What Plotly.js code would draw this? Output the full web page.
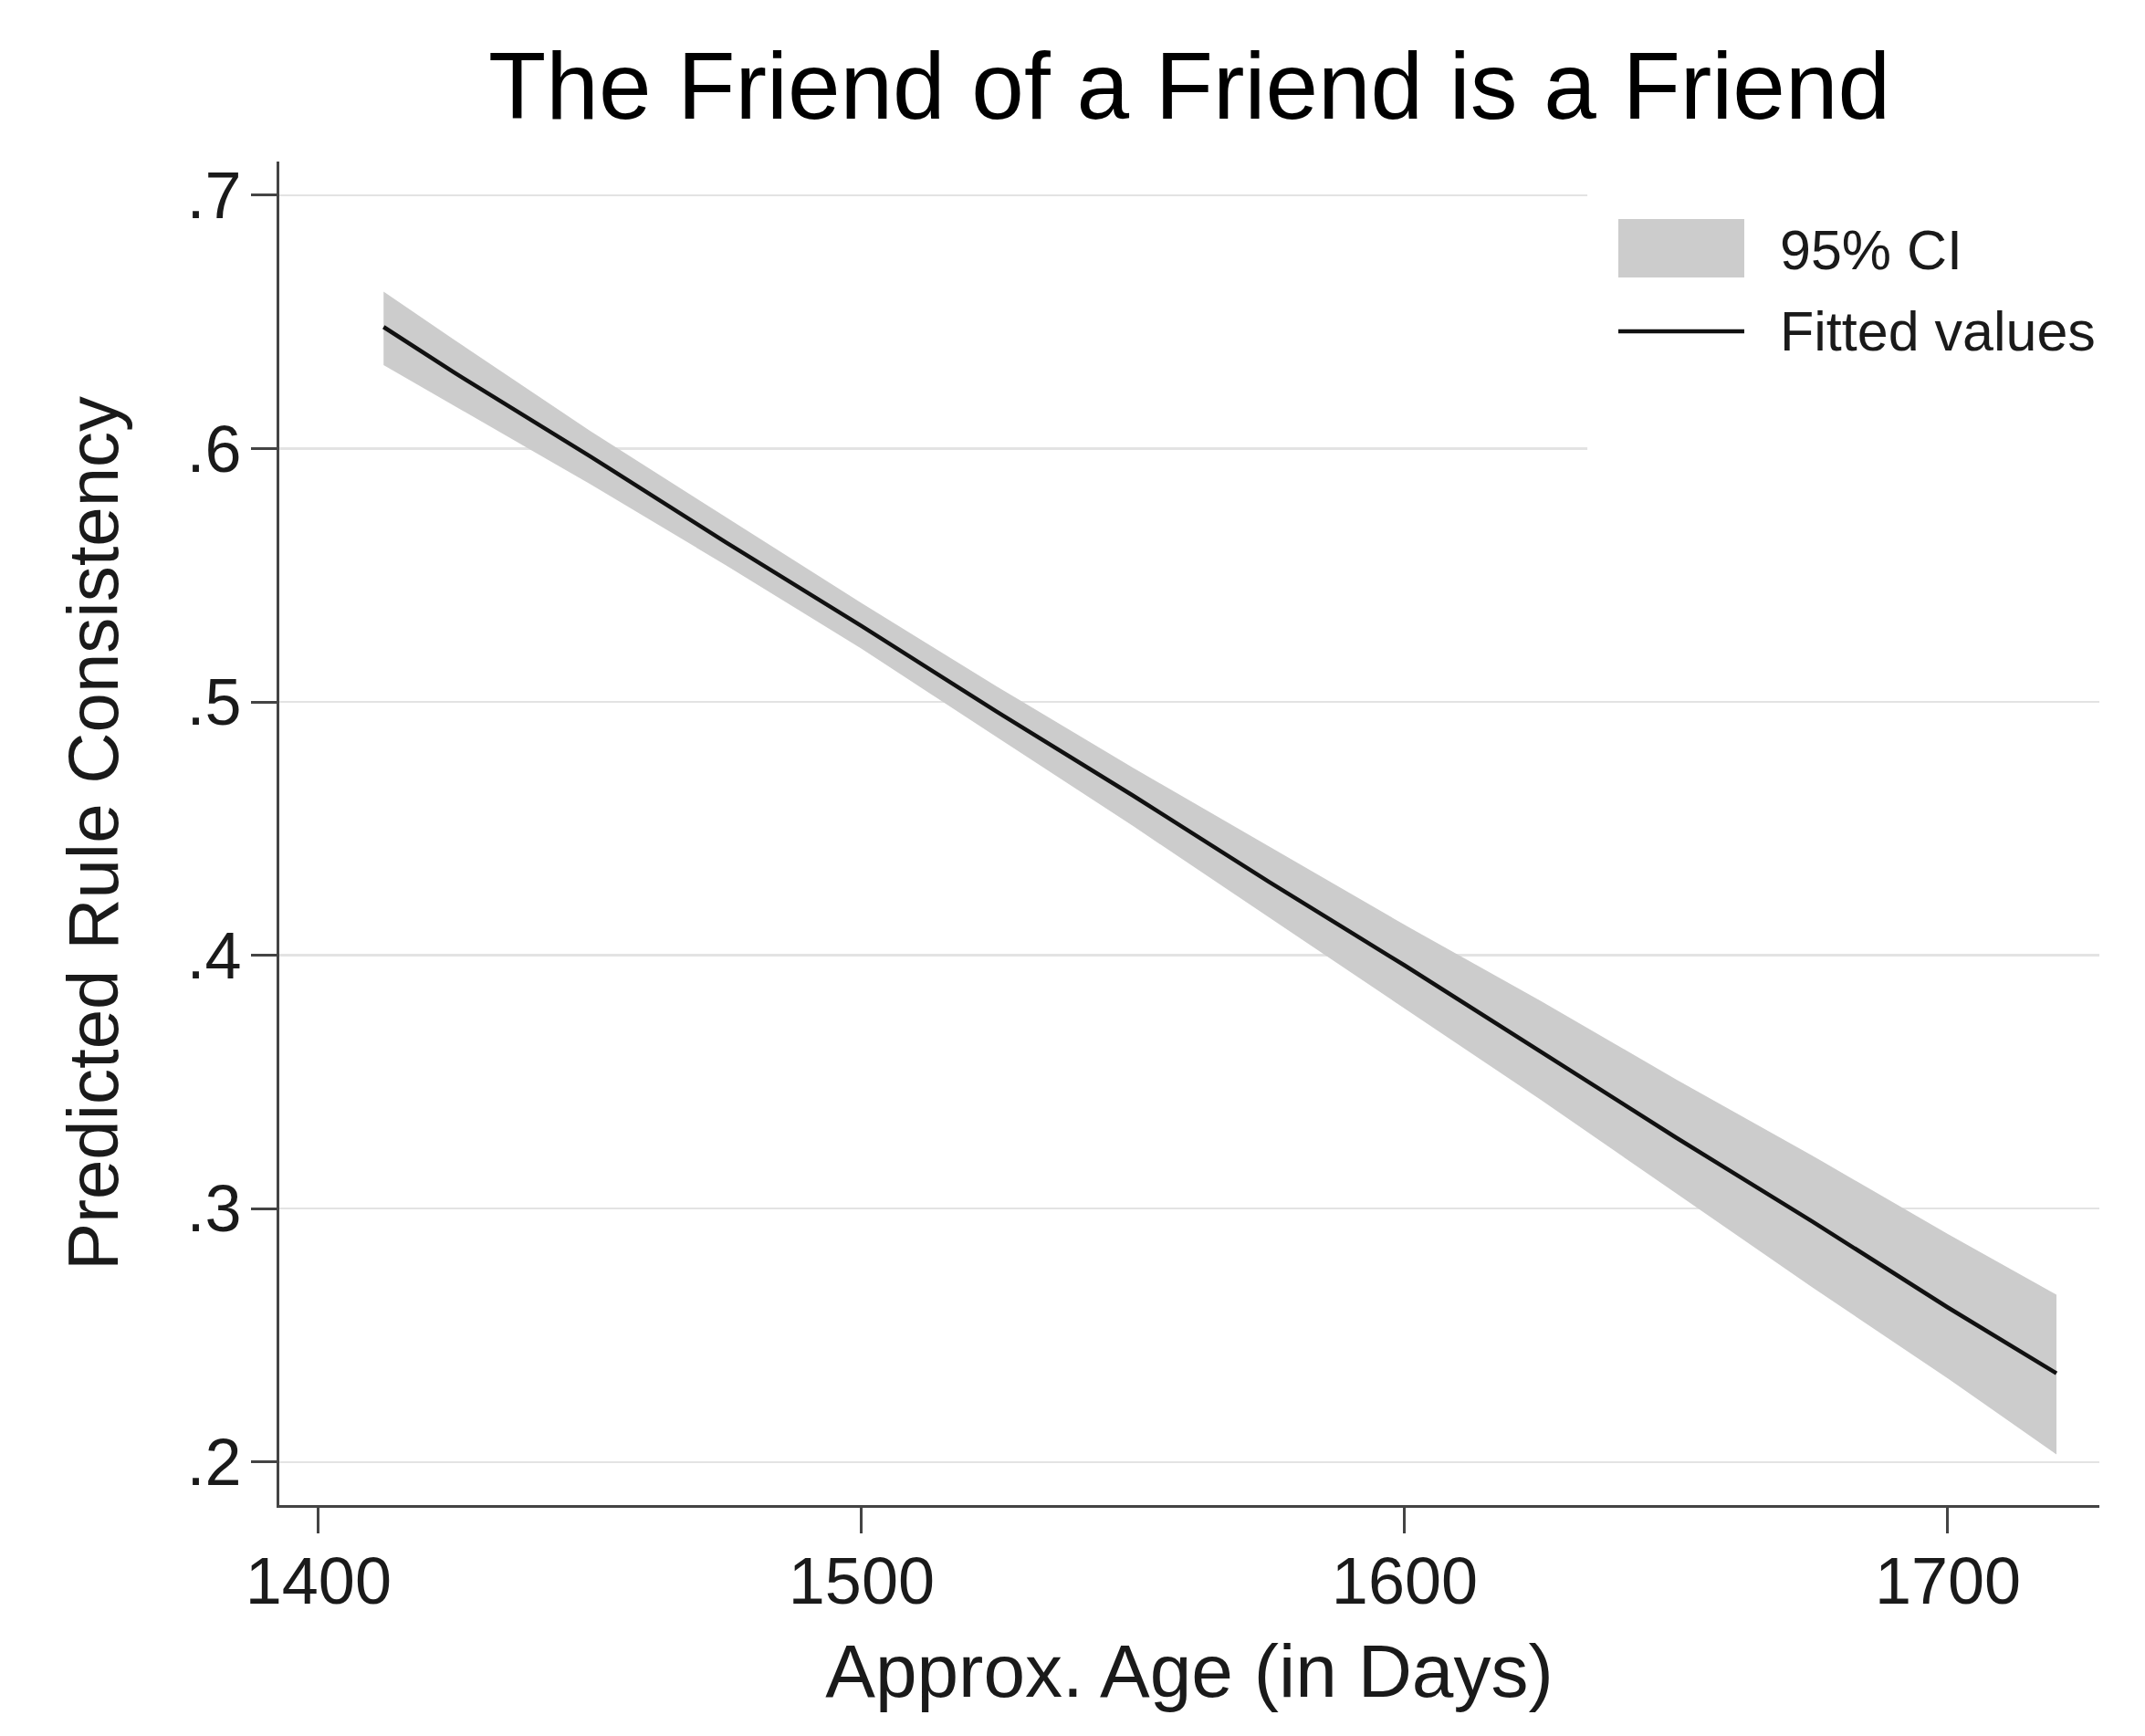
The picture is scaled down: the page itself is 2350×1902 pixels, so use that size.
<!DOCTYPE html>
<html>
<head>
<meta charset="utf-8">
<script src="https://cdn.plot.ly/plotly-3.0.1.min.js"></script>
<style>
  html, body { margin: 0; padding: 0; background: #ffffff; }
  #chart { width: 2350px; height: 1902px; }
</style>
</head>
<body>
<div id="chart"></div>
<script>
// Approx. age in days (x) and values
const ageDays   = [1412, 1425, 1450, 1475, 1500, 1525, 1550, 1575, 1600, 1625, 1650, 1675, 1700, 1720];
const fitted    = [0.648, 0.630, 0.597, 0.563, 0.530, 0.496, 0.463, 0.429, 0.396, 0.362, 0.328, 0.295, 0.261, 0.235];
const ciUpper   = [0.662, 0.643, 0.607, 0.573, 0.539, 0.506, 0.474, 0.443, 0.412, 0.382, 0.351, 0.321, 0.290, 0.266];
const ciLower   = [0.633, 0.617, 0.586, 0.554, 0.521, 0.486, 0.451, 0.415, 0.379, 0.343, 0.306, 0.269, 0.233, 0.203];
const xTicks    = [1400, 1500, 1600, 1700];
const yTicks    = [0.2, 0.3, 0.4, 0.5, 0.6, 0.7];
const yTickText = ['.2', '.3', '.4', '.5', '.6', '.7'];
const legendLabels = ['95% CI', 'Fitted values'];

const FONT = 'Liberation Sans, Arial, sans-serif';
const BAND = '#cccccc';
const LINE = '#111111';

const traces = [
  {
    x: ageDays, y: ciLower, type: 'scatter', mode: 'lines',
    line: { width: 0, color: 'rgba(0,0,0,0)' },
    showlegend: false, hoverinfo: 'skip'
  },
  {
    x: ageDays, y: ciUpper, type: 'scatter', mode: 'lines',
    fill: 'tonexty', fillcolor: BAND,
    line: { width: 0, color: BAND },
    name: legendLabels[0], showlegend: false
  },
  {
    x: ageDays, y: fitted, type: 'scatter', mode: 'lines',
    line: { width: 4.5, color: LINE },
    name: legendLabels[1], showlegend: false
  }
];

// legend drawn as a white box with swatches and real text, placed in paper space
const legendShapes = [
  { type: 'rect', xref: 'paper', yref: 'paper', layer: 'above',
    x0: 0.7187, x1: 1.0, y0: 0.7738, y1: 1.0,
    fillcolor: '#ffffff', line: { width: 0 } },
  { type: 'rect', xref: 'paper', yref: 'paper', layer: 'above',
    x0: 0.7357, x1: 0.8049, y0: 0.9137, y1: 0.9572,
    fillcolor: BAND, line: { width: 0 } },
  { type: 'line', xref: 'paper', yref: 'paper', layer: 'above',
    x0: 0.7357, x1: 0.8049, y0: 0.8736, y1: 0.8736,
    line: { width: 4.5, color: LINE } }
];
const legendAnnotations = [
  { text: legendLabels[0], xref: 'paper', yref: 'paper', x: 0.8235, y: 0.9341,
    xanchor: 'left', yanchor: 'middle', showarrow: false,
    font: { family: FONT, size: 61, color: '#1a1a1a' } },
  { text: legendLabels[1], xref: 'paper', yref: 'paper', x: 0.8235, y: 0.8736,
    xanchor: 'left', yanchor: 'middle', showarrow: false,
    font: { family: FONT, size: 61, color: '#1a1a1a' } }
];

const layout = {
  width: 2350, height: 1902,
  paper_bgcolor: '#ffffff', plot_bgcolor: '#ffffff',
  margin: { l: 306, r: 50, t: 177, b: 253, pad: 0 },
  font: { family: FONT, color: '#1a1a1a', size: 70 },
  showlegend: false,
  title: {
    text: 'The Friend of a Friend is a Friend',
    font: { family: FONT, size: 103.5, color: '#000000' },
    x: 0.5545, xanchor: 'center', y: 0.9506, yanchor: 'middle'
  },
  xaxis: {
    range: [1392.8, 1727.9],
    tickvals: xTicks, ticktext: xTicks.map(String),
    ticks: 'outside', ticklen: 28, tickwidth: 3, tickcolor: '#444444',
    showline: true, linecolor: '#444444', linewidth: 3, mirror: false,
    showgrid: false, zeroline: false,
    tickfont: { family: FONT, size: 72, color: '#1a1a1a' },
    ticklabelstandoff: -9,
    title: { text: 'Approx. Age (in Days)', font: { family: FONT, size: 82, color: '#1a1a1a' }, standoff: 31 }
  },
  yaxis: {
    range: [0.183, 0.7133],
    tickvals: yTicks, ticktext: yTickText,
    ticks: 'outside', ticklen: 28, tickwidth: 3, tickcolor: '#444444',
    showline: true, linecolor: '#444444', linewidth: 3, mirror: false,
    showgrid: true, gridcolor: '#e3e3e3', gridwidth: 2.5, zeroline: false,
    tickfont: { family: FONT, size: 72, color: '#1a1a1a' },
    ticklabelstandoff: -4,
    title: { text: 'Predicted Rule Consistency', font: { family: FONT, size: 78, color: '#1a1a1a' }, standoff: 50 }
  },
  shapes: legendShapes,
  annotations: legendAnnotations
};

Plotly.newPlot('chart', traces, layout, { displayModeBar: false, staticPlot: true });
</script>
</body>
</html>
